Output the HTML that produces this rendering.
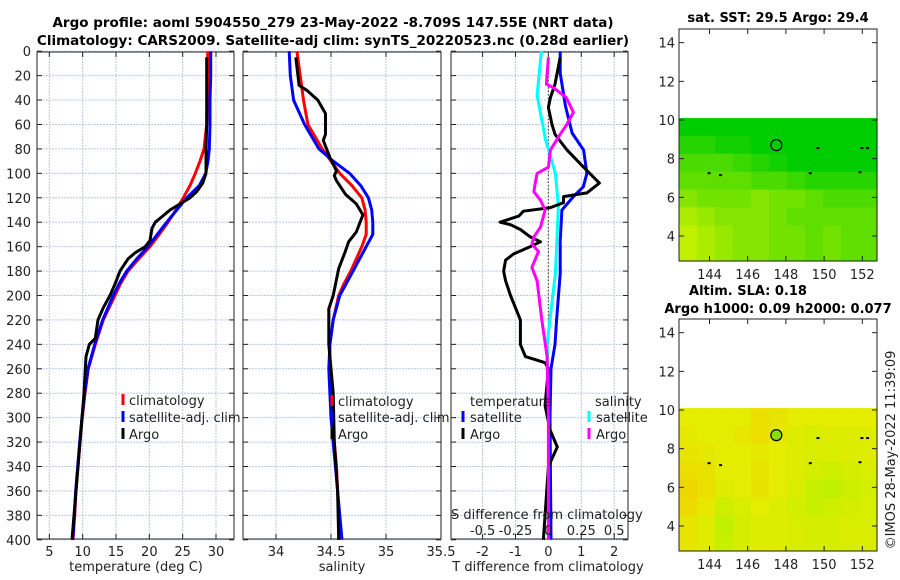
<!DOCTYPE html>
<html><head><meta charset="utf-8">
<style>
html,body{margin:0;padding:0;background:#fff;}
svg{display:block;font-family:"DejaVu Sans","Liberation Sans",sans-serif;}
</style></head>
<body>
<svg id="fig" width="900" height="580" viewBox="0 0 900 580" xmlns="http://www.w3.org/2000/svg">
<rect x="0" y="0" width="900" height="580" fill="#fff"/>
<text x="333" y="27" text-anchor="middle" font-size="13.5" font-weight="bold">Argo profile: aoml 5904550_279 23-May-2022 -8.709S 147.55E (NRT data)</text>
<text x="333" y="45" text-anchor="middle" font-size="13.5" font-weight="bold">Climatology: CARS2009. Satellite-adj clim: synTS_20220523.nc (0.28d earlier)</text>
<text x="778" y="22" text-anchor="middle" font-size="13" font-weight="bold">sat. SST: 29.5 Argo: 29.4</text>
<text x="748" y="295" text-anchor="middle" font-size="13" font-weight="bold">Altim. SLA: 0.18</text>
<text x="778" y="313" text-anchor="middle" font-size="13" font-weight="bold">Argo h1000: 0.09 h2000: 0.077</text>
<text transform="translate(895,450) rotate(-90)" text-anchor="middle" font-size="13" fill="#222">©IMOS 28-May-2022 11:39:09</text>
<g id="layer"></g>
</svg>
<script>
// ---- data ----
const climDepth = [0,20,40,60,80,90,100,110,120,130,140,150,160,170,180,190,200,220,240,260,280,300,320,340,360,380,400];
const tClim = [28.75,28.75,28.7,28.6,28.2,27.6,26.9,26.1,25.1,24.0,22.8,21.5,20.1,18.4,16.8,15.7,14.85,13.1,11.9,10.85,10.35,9.95,9.6,9.3,9.0,8.8,8.55];
const tSat = [29.2,29.2,29.1,29.1,29.0,28.8,28.45,27.5,25.6,24.1,22.6,21.2,19.8,18.1,16.6,15.5,14.6,13.0,11.8,10.8,10.3,9.9,9.55,9.25,8.95,8.75,8.5];
const argoDepth = [5,20,40,60,80,100,108,115,120,125,130,135,140,145,155,160,165,170,180,190,200,210,220,235,240,250,280,300,320,360,400];
const tArgo = [28.6,28.6,28.6,28.6,28.5,28.5,28.0,27.1,26.1,24.6,23.1,22.0,20.9,20.4,20.1,19.4,17.9,16.8,15.6,14.9,14.1,13.1,12.3,11.9,11.0,10.5,10.2,9.9,9.6,9.0,8.4];
const sClim = [34.19,34.22,34.25,34.29,34.42,34.5,34.58,34.69,34.78,34.81,34.82,34.82,34.78,34.73,34.68,34.62,34.57,34.52,34.49,34.49,34.5,34.51,34.53,34.55,34.56,34.57,34.58];
const sSat = [34.12,34.13,34.16,34.26,34.39,34.52,34.67,34.77,34.84,34.87,34.88,34.88,34.82,34.76,34.7,34.64,34.58,34.52,34.49,34.48,34.49,34.5,34.52,34.54,34.56,34.58,34.6];
const sArgoDepth = [5,28,32,40,51,68,73,87,98,102,106,117,125,134,148,156,164,178,200,211,240,280,320,360,400];
const sArgo = [34.18,34.21,34.28,34.38,34.45,34.45,34.43,34.49,34.55,34.53,34.55,34.63,34.73,34.79,34.73,34.66,34.63,34.57,34.52,34.48,34.48,34.52,34.53,34.56,34.57];
const dSatTDepth = [0,18,45,67,81,100,111,119,130,155,182,220,240,260,300,400];
const dSatT = [0.36,0.36,0.52,0.72,1.07,1.17,1.06,0.76,0.41,0.36,0.36,0.25,0.2,0.08,0.05,0.08];
const dSatSDepth = [0,36,72,100,127,182,240,300,400];
const dSatS = [-0.053,-0.086,-0.023,0.053,0.076,0.053,-0.01,0.005,0.01];
const dArgoTDepth = [5,27,38,46,60,68,81,95,108,116,119,124,128,131,135,140,142,146,152,156,160,166,171,180,188,200,220,240,250,255,260,290,310,324,340,400];
const dArgoT = [0.36,0.2,0.06,0,0.11,0.2,0.57,1.07,1.55,1.17,0.46,0.46,0.06,-0.76,-0.9,-1.47,-1.15,-0.85,-0.55,-0.24,-0.55,-1.06,-1.3,-1.36,-1.3,-1.15,-0.85,-0.85,-0.7,-0.1,0,-0.1,0.05,0.27,0,-0.15];
const dArgoSDepth = [5,27,30,38,50,60,68,81,95,100,108,115,122,130,144,152,158,164,177,188,220,250,300,400];
const dArgoS = [0,-0.015,0.04,0.136,0.19,0.14,0.09,0.015,0,-0.086,-0.1,-0.11,-0.06,-0.025,-0.06,-0.11,-0.125,-0.075,-0.125,-0.086,-0.05,-0.01,0,0];
const depthTicks = [0,20,40,60,80,100,120,140,160,180,200,220,240,260,280,300,320,340,360,380,400];
const tTicks = [5,10,15,20,25,30];
const sTicks = [34,34.5,35,35.5];
const sTickLabels = ["34","34.5","35","35.5"];
const dTTicks = [-2,-1,0,1,2];
const dSTicks = [-0.5,-0.25,0,0.25,0.5];
const dSTickLabels = ["-0.5","-0.25","0","0.25","0.5"];
const lonTicks = [144,146,148,150,152];
const latTicks = [4,6,8,10,12,14];
// SST grid (rows from lat 10 southward, 1-degree cols from 142.4E)
const sstGrid = [
 [30,30,30,30,30,30,30,30,30,30,30],
 [29.8,29.8,29.9,29.9,30,30,30,30,30,30,30],
 [29.6,29.6,29.6,29.7,29.8,29.9,30,30,30,30,30],
 [29.5,29.5,29.5,29.5,29.6,29.6,29.7,29.8,29.8,29.8,29.8],
 [29.3,29.4,29.4,29.4,29.3,29.4,29.4,29.5,29.6,29.6,29.6],
 [29.1,29.2,29.3,29.3,29.3,29.4,29.5,29.5,29.5,29.5,29.5],
 [29.0,29.1,29.2,29.3,29.3,29.4,29.4,29.5,29.4,29.5,29.5],
 [29.0,29.1,29.2,29.3,29.3,29.4,29.4,29.5,29.4,29.5,29.5]
];
const slaGrid = [
 [0.5,0.5,0.5,0.5,0.7,0.6,0.5,0.5,0.5,0.5,0.5],
 [0.55,0.5,0.5,0.55,0.7,0.55,0.45,0.4,0.45,0.45,0.45],
 [0.6,0.55,0.5,0.5,0.55,0.5,0.45,0.4,0.4,0.45,0.45],
 [0.7,0.65,0.5,0.5,0.6,0.5,0.45,0.35,0.3,0.35,0.4],
 [0.8,0.7,0.45,0.5,0.65,0.5,0.4,0.25,0.2,0.3,0.35],
 [0.75,0.55,0.3,0.4,0.5,0.45,0.35,0.25,0.3,0.35,0.4],
 [0.6,0.45,0.2,0.35,0.45,0.45,0.4,0.35,0.35,0.4,0.4],
 [0.6,0.45,0.25,0.35,0.45,0.45,0.4,0.35,0.35,0.4,0.4]
];
const argoLon = 147.5, argoLat = 8.7;

// ---- layout ----
const NS = "http://www.w3.org/2000/svg";
const layer = document.getElementById('layer');
function mk(tag, attrs, parent){
  const e = document.createElementNS(NS, tag);
  for (const k in attrs) e.setAttribute(k, attrs[k]);
  (parent||layer).appendChild(e);
  return e;
}
const Y0 = 52, Y1 = 539;
const yD = d => 51.2 + d*1.2215;
const panels = [
  {x0:37, x1:234, xmin:3.15, xmax:32.7},
  {x0:243, x1:441, xmin:33.70, xmax:35.5},
  {x0:451, x1:628, xmin:-2.96, xmax:2.42}
];
const sx = (p,v) => p.x0 + (v - p.xmin)/(p.xmax - p.xmin)*(p.x1 - p.x0);
const sxS = v => sx(panels[2], v*4);
const GRID = '#bcc6e6';

function gridAndBox(p, xt, name){
  const g = mk('g', {});
  
  
  depthTicks.forEach(d => {
    const l = mk('line', {x1:p.x0, x2:p.x1, y1:yD(d), y2:yD(d), stroke:GRID, 'stroke-width':1, 'stroke-dasharray':'2,1'}, g);
    
    
  });
  xt.forEach(v => {
    const x = sx(p, v);
    const l = mk('line', {x1:x, x2:x, y1:Y0, y2:Y1, stroke:GRID, 'stroke-width':1, 'stroke-dasharray':'2,1'}, g);
    
    
  });
  const r = mk('rect', {x:p.x0, y:Y0, width:p.x1-p.x0, height:Y1-Y0, fill:'none', stroke:'#222', 'stroke-width':1}, g);
  
  
  depthTicks.forEach(d => {
    mk('line', {x1:p.x0, x2:p.x0+5, y1:yD(d), y2:yD(d), stroke:'#222'}, g);
    mk('line', {x1:p.x1-5, x2:p.x1, y1:yD(d), y2:yD(d), stroke:'#222'}, g);
  });
  xt.forEach(v => {
    const x = sx(p, v);
    mk('line', {x1:x, x2:x, y1:Y1-5, y2:Y1, stroke:'#222'}, g);
    mk('line', {x1:x, x2:x, y1:Y0, y2:Y0+5, stroke:'#222'}, g);
  });
}
function line(xs, ds, xf, color, name){
  const pts = xs.map((v,i) => xf(v).toFixed(1) + ',' + yD(ds[i]).toFixed(1)).join(' ');
  const pl = mk('polyline', {points:pts, fill:'none', stroke:color, 'stroke-width':3, 'stroke-linejoin':'round'});
  
  
}
function txt(x, y, s, opts, name){
  const t = mk('text', Object.assign({x:x, y:y, 'font-size':13, fill:'#222'}, opts||{}));
  t.textContent = s;
  
  
  return t;
}
function legendMark(x, yc, color){
  const r = mk('rect', {x:x-1.5, y:yc-6, width:3, height:11, fill:color});
  
  
}

// Panel 1: temperature
const P1 = panels[0];
gridAndBox(P1, tTicks, 'temperature-plot');
depthTicks.forEach(d => txt(31, yD(d)+5, String(d), {'text-anchor':'end'}, 'y-tick-label'));
tTicks.forEach(v => txt(sx(P1,v), 556, String(v), {'text-anchor':'middle'}, 'x-tick-label'));
txt(136, 571, 'temperature (deg C)', {'text-anchor':'middle'}, 'temperature-axis-title');
line(tClim, climDepth, v => sx(P1,v), '#ff0000', 'temp-climatology-line');
line(tSat, climDepth, v => sx(P1,v), '#0000ff', 'temp-satellite-line');
line(tArgo, argoDepth, v => sx(P1,v), '#000000', 'temp-argo-line');
legendMark(123, 400, '#ff0000'); txt(129, 405, 'climatology', {}, 'legend-entry-climatology');
legendMark(123, 417, '#0000ff'); txt(129, 422, 'satellite-adj. clim', {}, 'legend-entry-satellite');
legendMark(123, 434, '#000000'); txt(129, 439, 'Argo', {}, 'legend-entry-argo');

// Panel 2: salinity
const P2 = panels[1];
gridAndBox(P2, sTicks, 'salinity-plot');
sTicks.forEach((v,i) => txt(sx(P2,v), 556, sTickLabels[i], {'text-anchor':'middle'}, 'x-tick-label'));
txt(342, 571, 'salinity', {'text-anchor':'middle'}, 'salinity-axis-title');
line(sClim, climDepth, v => sx(P2,v), '#ff0000', 'sal-climatology-line');
line(sSat, climDepth, v => sx(P2,v), '#0000ff', 'sal-satellite-line');
line(sArgo, sArgoDepth, v => sx(P2,v), '#000000', 'sal-argo-line');
legendMark(332, 401, '#ff0000'); txt(338, 406, 'climatology', {}, 'legend-entry-climatology');
legendMark(332, 417, '#0000ff'); txt(338, 422, 'satellite-adj. clim', {}, 'legend-entry-satellite');
legendMark(332, 434, '#000000'); txt(338, 439, 'Argo', {}, 'legend-entry-argo');

// Panel 3: differences
const P3 = panels[2];
gridAndBox(P3, dTTicks, 'difference-plot');
dTTicks.forEach(v => txt(sx(P3,v), 556, String(v), {'text-anchor':'middle'}, 'x-tick-label'));
txt(548, 571, 'T difference from climatology', {'text-anchor':'middle'}, 'tdiff-axis-title');
const zl = mk('line', {x1:sx(P3,0), x2:sx(P3,0), y1:Y0, y2:Y1, stroke:'#555533', 'stroke-width':1.2, 'stroke-dasharray':'1.5,2'});


line(dSatS, dSatSDepth, sxS, '#00ffff', 'sal-diff-satellite-line');
line(dSatT, dSatTDepth, v => sx(P3,v), '#0000ff', 'temp-diff-satellite-line');
line(dArgoT, dArgoTDepth, v => sx(P3,v), '#000000', 'temp-diff-argo-line');
line(dArgoS, dArgoSDepth, sxS, '#ff00ff', 'sal-diff-argo-line');
txt(470, 406, 'temperature', {}, 'legend-title-temperature');
legendMark(463, 417, '#0000ff'); txt(470, 422, 'satellite', {}, 'legend-entry-temp-satellite');
legendMark(463, 434, '#000000'); txt(470, 439, 'Argo', {}, 'legend-entry-temp-argo');
txt(595, 406, 'salinity', {}, 'legend-title-salinity');
legendMark(589, 417, '#00ffff'); txt(596, 422, 'satellite', {}, 'legend-entry-sal-satellite');
legendMark(589, 434, '#ff00ff'); txt(596, 439, 'Argo', {}, 'legend-entry-sal-argo');
txt(451, 519, 'S difference from climatology', {}, 'sdiff-axis-title');
dSTicks.forEach((v,i) => txt(sxS(v), 535, dSTickLabels[i], {'text-anchor':'middle'}, 'sdiff-tick-label'));

// ---- maps ----
const MX0 = 679, MX1 = 877;
const lonX = lon => 709.5 + (lon - 144)*19.1;
function sstColor(v){
  const t = Math.max(0, Math.min(1, (30 - v)/1.0));
  return 'rgb(' + Math.round(190*t) + ',' + Math.round(205+35*t) + ',0)';
}
function slaColor(v){
  const t = Math.max(0, Math.min(1, v));
  let r, g;
  if (t < 0.5){ r = 170 + (228-170)*t*2; g = 242 - 6*t*2; }
  else { r = 228 + (245-228)*(t-0.5)*2; g = 236 - 36*(t-0.5)*2; }
  return 'rgb(' + Math.round(r) + ',' + Math.round(g) + ',0)';
}
function drawMap(yOff, grid, colorFn, name, filled){
  const latY = lat => 120 + yOff - (lat - 10)*19.33;
  const MY0 = 29 + yOff, MY1 = 261 + yOff;
  const g = mk('g', {});
  
  
  const top = latY(10.1);
  const rows = grid.length, cols = grid[0].length;
  const ch = (MY1 - top)/rows, cw = (MX1 - MX0)/cols;
  grid.forEach((row, j) => row.forEach((v, i) => {
    const c = mk('rect', {x:(MX0 + i*cw).toFixed(2), y:(top + j*ch).toFixed(2), width:(cw+0.6).toFixed(2), height:(ch+0.6).toFixed(2), fill:colorFn(v)}, g);
    
    
  }));
  // small coastline specks
  [[143.9,7.3],[144.5,7.2],[149.6,8.6],[149.2,7.3],[151.8,7.35],[152.2,8.6],[151.9,8.6]].forEach(p => {
    mk('rect', {x:lonX(p[0]), y:latY(p[1]), width:3, height:2, fill:'#000'}, g);
  });
  const c = mk('circle', {cx:lonX(argoLon), cy:latY(argoLat), r:5.5, fill: filled ? '#88dd00' : 'none', stroke:'#000', 'stroke-width':1.2}, g);
  
  
  const fr = mk('rect', {x:MX0, y:MY0, width:MX1-MX0, height:MY1-MY0, fill:'none', stroke:'#222'}, g);
  
  
  lonTicks.forEach(lon => {
    const x = lonX(lon);
    mk('line', {x1:x, x2:x, y1:MY1-5, y2:MY1, stroke:'#222'}, g);
    mk('line', {x1:x, x2:x, y1:MY0, y2:MY0+5, stroke:'#222'}, g);
    txt(x, MY1 + 18, String(lon), {'text-anchor':'middle'}, 'map-lon-tick-label');
  });
  latTicks.forEach(lat => {
    const y = latY(lat);
    mk('line', {x1:MX0, x2:MX0+5, y1:y, y2:y, stroke:'#222'}, g);
    mk('line', {x1:MX1-5, x2:MX1, y1:y, y2:y, stroke:'#222'}, g);
    txt(675, y + 5, String(lat), {'text-anchor':'end'}, 'map-lat-tick-label');
  });
}
drawMap(0, sstGrid, sstColor, 'sst-map', false);
drawMap(290, slaGrid, slaColor, 'sla-map', true);
</script>
</body></html>
